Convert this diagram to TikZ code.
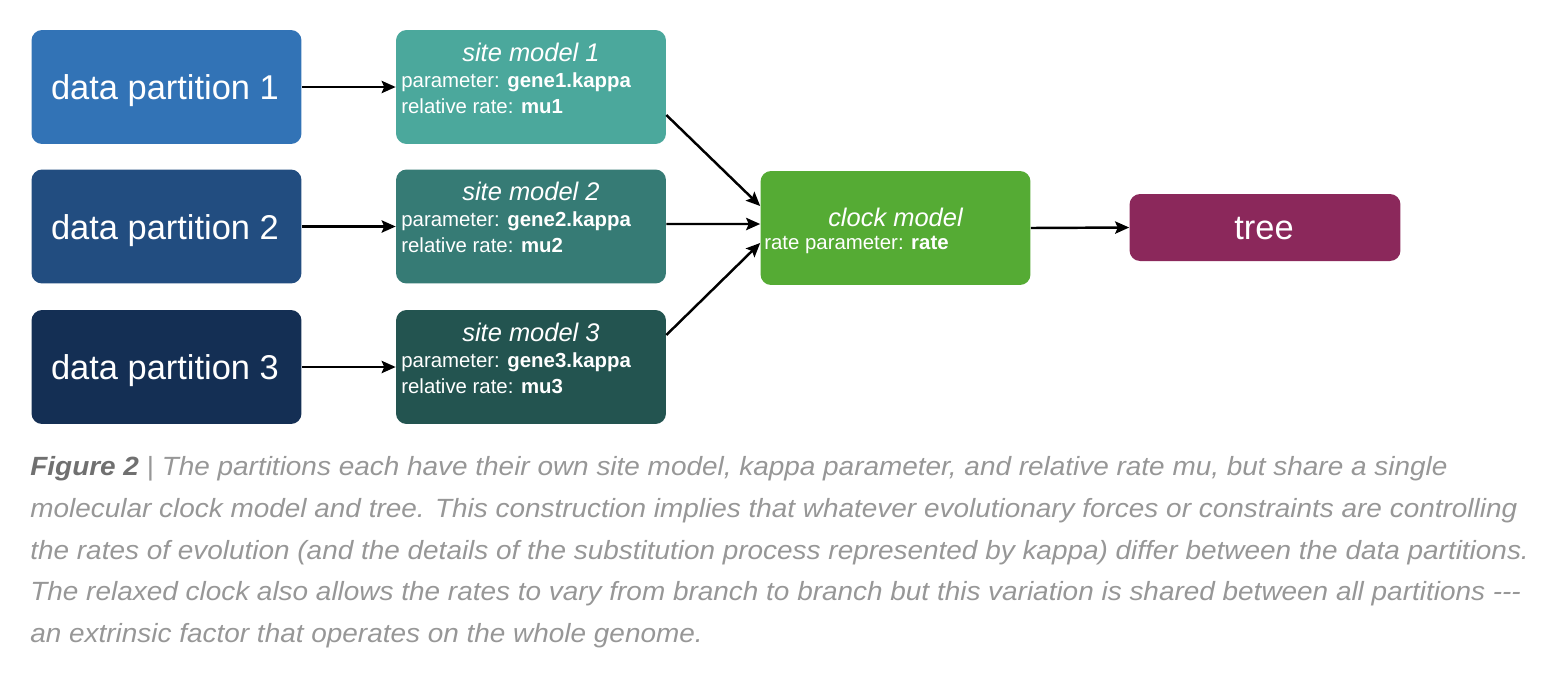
\documentclass[tikz,border=0pt]{standalone}
\usepackage{fontspec}
\setmainfont{Liberation Sans}
\usetikzlibrary{arrows.meta}
\definecolor{dpA}{HTML}{3273B6}
\definecolor{dpB}{HTML}{224D80}
\definecolor{dpC}{HTML}{142F54}
\definecolor{smA}{HTML}{4BA89C}
\definecolor{smB}{HTML}{367B75}
\definecolor{smC}{HTML}{235450}
\definecolor{clk}{HTML}{55AB34}
\definecolor{tre}{HTML}{8B285B}
\definecolor{capgray}{HTML}{979797}
\definecolor{capdark}{HTML}{707070}
\tikzset{
  boxbase/.style={rounded corners=6pt, inner sep=0pt, text=white, draw=none},
  bigbox/.style={boxbase, minimum width=5.4cm, minimum height=2.28cm},
  bigtext/.style={text=white, inner sep=0pt, font=\fontsize{19.6}{22}\selectfont},
  titletext/.style={text=white, inner sep=0pt, font=\fontsize{14.5}{17}\selectfont\itshape},
  linetext/.style={text=white, inner sep=0pt, anchor=west, font=\fontsize{11.6}{14}\selectfont},
  conn/.style={draw=black, line width=1.4pt, -{Stealth[length=8pt,width=7pt,inset=1.5pt]}},
  captext/.style={text=capgray, inner sep=0pt, anchor=base west, font=\addfontfeature{FakeStretch=1.06}\fontsize{15}{17}\selectfont\itshape},
}
\begin{document}
\begin{tikzpicture}[x=0.02cm, y=-0.02cm]
\useasboundingbox (0,0) rectangle (1550,680);
% data partitions
\node[bigbox, fill=dpA] (dp1) at (166.5,87) {};
\node[bigbox, fill=dpB] (dp2) at (166.5,226.5) {};
\node[bigbox, fill=dpC] (dp3) at (166.5,367) {};
\node[bigtext] (dp1t) at (165,91) {data partition 1};
\node[bigtext] (dp2t) at (165,230.5) {data partition 2};
\node[bigtext] (dp3t) at (165,371) {data partition 3};
% site models
\node[bigbox, fill=smA] (sm1) at (531,87) {};
\node[bigbox, fill=smB] (sm2) at (531,226.5) {};
\node[bigbox, fill=smC] (sm3) at (531,367) {};
\foreach \i/\y in {1/87, 2/226.5, 3/367}{
  \node[titletext] (sm\i t) at (531,\y-35) {site model \i};
  \node[linetext] (sm\i p) at (401,\y-5) {parameter: \textbf{gene\i.kappa}};
  \node[linetext] (sm\i r) at (401,\y+19) {relative rate: \textbf{mu\i}};
}
% clock model
\node[boxbase, fill=clk, minimum width=5.4cm, minimum height=2.28cm] (clock) at (895.5,228) {};
\node[titletext] (clockt) at (895.5,217) {clock model};
\node[linetext] (clockr) at (764,245) {rate parameter: \textbf{rate}};
% tree
\node[boxbase, fill=tre, minimum width=5.42cm, minimum height=1.34cm] (tree) at (1265,227.5) {};
\node[bigtext] (treet) at (1264,229) {tree};
% connectors
\draw[conn] (dp1.east) -- (sm1.west);
\draw[conn] (dp2.east) -- (sm2.west);
\draw[conn] (dp3.east) -- (sm3.west);
\draw[conn] ([yshift=-0.56cm]sm1.east) -- ([yshift=0.44cm]clock.west);
\draw[conn] ([yshift=0.05cm]sm2.east) -- ([yshift=0.08cm]clock.west);
\draw[conn] ([yshift=0.64cm]sm3.east) -- ([yshift=-0.30cm]clock.west);
\draw[conn] (clock.east) -- (tree.west);
% caption
\node[captext] (c1) at (30,475) {{\color{capdark}\bfseries Figure 2} {\upshape|} The partitions each have their own site model, kappa parameter, and relative rate mu, but share a single};
\node[captext] (c2) at (30,517) {molecular clock model and tree. This construction implies that whatever evolutionary forces or constraints are controlling};
\node[captext] (c3) at (30,559) {the rates of evolution (and the details of the substitution process represented by kappa) differ between the data partitions.};
\node[captext] (c4) at (30,600) {The relaxed clock also allows the rates to vary from branch to branch but this variation is shared between all partitions -{}-{}-};
\node[captext] (c5) at (30,642) {an extrinsic factor that operates on the whole genome.};
\end{tikzpicture}
\end{document}
